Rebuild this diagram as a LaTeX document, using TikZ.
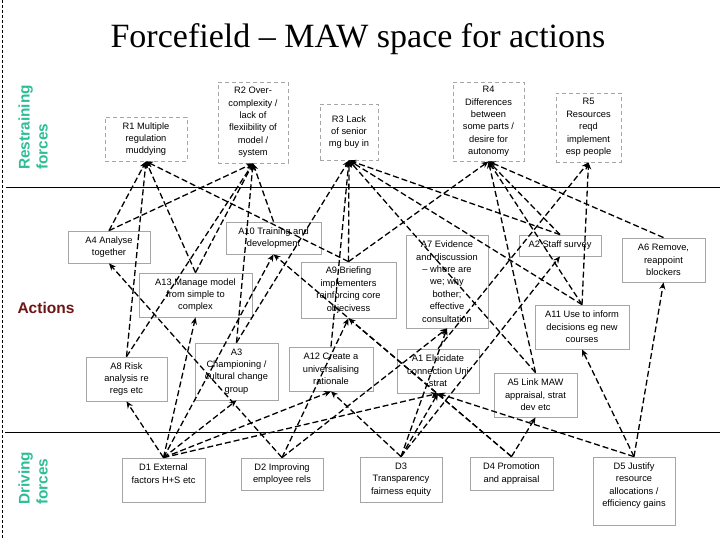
\documentclass[tikz,border=0pt]{standalone}
\usepackage{fontspec}
\setmainfont{Liberation Sans}
\newfontfamily\titlefont{Liberation Serif}
\usepackage{tikz}
\usetikzlibrary{arrows.meta, positioning}
\definecolor{forcegreen}{RGB}{45,190,150}
\definecolor{actred}{RGB}{110,20,20}
\newcommand{\boxfont}{\fontsize{9.3}{12.4}\selectfont}
\tikzstyle{rbox} = [rectangle, draw=black!35, dash pattern=on 4pt off 3pt, line width=0.8pt, align=center, inner sep=0pt, font=\boxfont]
\tikzstyle{abox} = [rectangle, draw=black!35, line width=0.8pt, align=center, inner sep=0pt, font=\boxfont]
\tikzstyle{link} = [line width=1.3pt, dash pattern=on 6pt off 3pt, -{Stealth[length=7pt,width=6pt]}]
\tikzstyle{side} = [font=\fontsize{15.4}{18}\selectfont\bfseries, text=forcegreen, rotate=90, align=left, anchor=west, inner sep=0pt]

\begin{document}
\begin{tikzpicture}[x=1pt, y=-1pt]
  \useasboundingbox (0,0) rectangle (720,540);
  % frame
  \draw[dash pattern=on 3pt off 2pt, line width=0.9pt] (2.5,0) -- (2.5,540);
  \draw[line width=0.8pt] (6,187.5) -- (720,187.5);
  \draw[line width=0.8pt] (5,432.5) -- (720,432.5);
  \node[font=\titlefont\fontsize{34}{40}\selectfont, anchor=base] (title) at (358,48) {Forcefield – MAW space for actions};
  \node[side] (restrain) at (33,170) {Restraining\\forces};
  \node[side] (driving) at (33,505) {Driving\\forces};
  \node[font=\fontsize{15.5}{18}\selectfont\bfseries, text=actred, anchor=west] (actions) at (14,308) {Actions};

  % restraining forces
  \node[rbox, minimum width=82pt, minimum height=44pt] (R1) at (146,139) {R1 Multiple\\regulation\\muddying};
  \node[rbox, minimum width=70pt, minimum height=81pt] (R2) at (253,122.5) {R2 Over-\\complexity /\\lack of\\flexiibility of\\model /\\system};
  \node[rbox, minimum width=58pt, minimum height=56pt] (R3) at (349,132) {R3 Lack\\of senior\\mg buy in};
  \node[rbox, minimum width=71pt, minimum height=79pt] (R4) at (488.5,121.5) {R4\\Differences\\between\\some parts /\\desire for\\autonomy};
  \node[rbox, minimum width=65pt, minimum height=69pt] (R5) at (588.5,127.5) {R5\\Resources\\reqd\\implement\\esp people};

  % actions
  \node[abox, minimum width=82pt, minimum height=32pt] (A4) at (109,247) {A4 Analyse\\together};
  \node[abox, minimum width=95pt, minimum height=32pt] (A10) at (273.5,238) {A10 Training and\\development};
  \node[abox, minimum width=113pt, minimum height=44pt] (A13) at (195.5,295) {A13 Manage model\\from simple to\\complex};
  \node[abox, minimum width=95pt, minimum height=56pt] (A9) at (348.5,290) {A9 Briefing\\implementers\\reinforcing core\\objecivess};
  \node[abox, minimum width=82pt, minimum height=93pt] (A7) at (447,281.5) {A7 Evidence\\and discussion\\– where are\\we; why\\bother;\\effective\\consultation};
  \node[abox, minimum width=82pt, minimum height=21pt] (A2) at (560,245.5) {A2 Staff survey};
  \node[abox, minimum width=83pt, minimum height=44pt] (A6) at (663.5,260) {A6 Remove,\\reappoint\\blockers};
  \node[abox, minimum width=94pt, minimum height=44pt] (A11) at (582,327) {A11 Use to inform\\decisions eg new\\courses};
  \node[abox, minimum width=81pt, minimum height=44pt] (A8) at (126.5,379) {A8 Risk\\analysis re\\regs etc};
  \node[abox, minimum width=83pt, minimum height=57pt] (A3) at (236.5,371.5) {A3\\Championing /\\cultural change\\group};
  \node[abox, minimum width=84pt, minimum height=44pt] (A12) at (331,369) {A12 Create a\\universalising\\rationale};
  \node[abox, minimum width=82pt, minimum height=44pt] (A1) at (438,371) {A1 Elucidate\\connection Uni\\strat};
  \node[abox, minimum width=83pt, minimum height=44pt] (A5) at (535.5,395) {A5 Link MAW\\appraisal, strat\\dev etc};

  % driving forces
  \node[abox, minimum width=83pt, minimum height=44pt] (D1) at (163.5,480) {D1 External\\factors H+S etc\\\mbox{}};
  \node[abox, minimum width=82pt, minimum height=32pt] (D2) at (282,474) {D2 Improving\\employee rels};
  \node[abox, minimum width=82pt, minimum height=45pt] (D3) at (401,479.5) {D3\\Transparency\\fairness equity};
  \node[abox, minimum width=83pt, minimum height=33pt] (D4) at (511.5,473.5) {D4 Promotion\\and appraisal};
  \node[abox, minimum width=82pt, minimum height=68pt] (D5) at (634,491) {D5 Justify\\resource\\allocations /\\efficiency gains\\\mbox{}};

  % actions against restraining forces
  \draw[link] (A4.north) -- (R1.south);
  \draw[link] (A8.north) -- (R1.south);
  \draw[link] (A13.north) -- (R1.south);
  \draw[link] (A9.north) -- (R1.south);
  \draw[link] (A4.north) -- (R2.south);
  \draw[link] (A8.north) -- (R2.south);
  \draw[link] (A13.north) -- (R2.south);
  \draw[link] (A3.north) -- (R2.south);
  \draw[link] (A10.north) -- (R2.south);
  \draw[link] (A3.north) -- (R3.south);
  \draw[link] (A12.north) -- (R3.south);
  \draw[link] (A9.north) -- (R3.south);
  \draw[link] (A2.north) -- (R3.south);
  \draw[link] (A11.north) -- (R3.south);
  \draw[link] (A5.north) -- (R3.south);
  \draw[link] (A9.north) -- (R4.south);
  \draw[link] (A2.north) -- (R4.south);
  \draw[link] (A5.north) -- (R4.south);
  \draw[link] (A11.north) -- (R4.south);
  \draw[link] (A6.north) -- (R4.south);
  \draw[link] (A1.north) -- (R5.south);
  \draw[link] (A11.north) -- (R5.south);
  % driving forces into actions
  \draw[link] (D1.north) -- (A8.south);
  \draw[link] (D1.north) -- (A13.south);
  \draw[link] (D1.north) -- (A10.south);
  \draw[link] (D1.north) -- (A3.south);
  \draw[link] (D1.north) -- (A12.south);
  \draw[link] (D1.north) -- (A1.south);
  \draw[link] (D2.north) -- (A4.south);
  \draw[link] (D2.north) -- (A9.south);
  \draw[link] (D2.north) -- (A7.south);
  \draw[link] (D3.north) -- (A12.south);
  \draw[link] (D3.north) -- (A7.south);
  \draw[link] (D3.north) -- (A1.south);
  \draw[link] (D3.north) -- (A2.south);
  \draw[link] (D4.north) -- (A10.south);
  \draw[link] (D4.north) -- (A9.south);
  \draw[link] (D4.north) -- (A5.south);
  \draw[link] (D5.north) -- (A1.south);
  \draw[link] (D5.north) -- (A11.south);
  \draw[link] (D5.north) -- (A6.south);
\end{tikzpicture}
\end{document}
